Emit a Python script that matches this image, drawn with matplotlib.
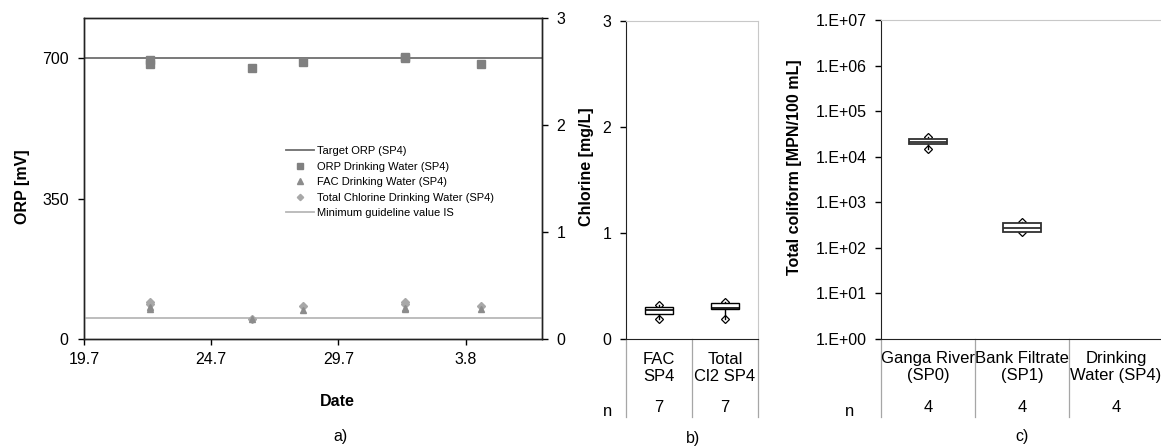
import matplotlib
matplotlib.use('Agg')
import matplotlib.pyplot as plt
import matplotlib.transforms as mtransforms
from matplotlib.lines import Line2D
from matplotlib.ticker import FixedLocator, FixedFormatter, NullLocator

plt.rcParams['font.family'] = ['Liberation Sans', 'DejaVu Sans']

W, H = 1161, 446

# ---------------- data: panel a ----------------
date_ticks = [0, 5, 10, 15]               # days after 19 July
date_labels = ['19.7', '24.7', '29.7', '3.8']
sample_days = [2.6, 2.6, 6.6, 8.6, 12.6, 12.6, 15.6]
orp_mv = [696, 686, 675, 690, 700, 703, 685]
fac_mgl = [0.30, 0.28, 0.19, 0.27, 0.29, 0.28, 0.28]
total_cl_mgl = [0.35, 0.33, 0.19, 0.31, 0.35, 0.33, 0.31]
target_orp = 700
min_guideline = 0.2
orp_ticks = [0, 350, 700]
cl_ticks = [0, 1, 2, 3]

# ---------------- data: panel b ----------------
cl_categories = ['FAC\nSP4', 'Total\nCl2 SP4']
cl_n = [7, 7]
cl_min = [0.19, 0.19]
cl_q1 = [0.24, 0.28]
cl_med = [0.27, 0.29]
cl_q3 = [0.30, 0.34]
cl_max = [0.32, 0.35]

# ---------------- data: panel c ----------------
tc_categories = ['Ganga River\n(SP0)', 'Bank Filtrate\n(SP1)', 'Drinking\nWater (SP4)']
tc_n = [4, 4, 4]
tc_min = [1.5e4, 219]
tc_q1 = [1.86e4, 225]
tc_med = [2.15e4, 277]
tc_q3 = [2.5e4, 344]
tc_max = [2.7e4, 368]
tc_ticks = [1e0, 1e1, 1e2, 1e3, 1e4, 1e5, 1e6, 1e7]
tc_labels = ['1.E+00', '1.E+01', '1.E+02', '1.E+03', '1.E+04', '1.E+05', '1.E+06', '1.E+07']


def fx(px):
    return px / W


def fy(py):
    return 1 - py / H


def rect(l, t, r, b):
    return [fx(l), fy(b), fx(r) - fx(l), fy(t) - fy(b)]


FS = 11.5
FSC = 12
fig = plt.figure(figsize=(W / 100, H / 100), dpi=100)

# ================= panel a =================
ax = fig.add_axes(rect(84, 18, 542, 339))
ax2 = ax.twinx()
ax.set_xlim(0, 18)
ax.set_ylim(0, 800)
ax2.set_ylim(0, 3)

ax.axhline(target_orp, color='#6e6e6e', lw=1.3, zorder=2)
ax.plot(sample_days, orp_mv, ls='none', marker='s', ms=5.3, color='#808080', zorder=3)
ax2.axhline(min_guideline, color='#b8b8b8', lw=1.3, zorder=1)
ax2.plot(sample_days, total_cl_mgl, ls='none', marker='D', ms=3.6, color='#a8a8a8', zorder=3)
ax2.plot(sample_days, fac_mgl, ls='none', marker='^', ms=4.2, color='#8c8c8c', zorder=4)

ax.set_xticks(date_ticks)
ax.set_xticklabels(date_labels)
ax.set_yticks(orp_ticks)
ax2.set_yticks(cl_ticks)
ax.tick_params(axis='y', direction='out', length=4, width=1, labelsize=FS, pad=7)
ax.tick_params(axis='x', direction='out', length=4, width=1, labelsize=FS, pad=5)
ax2.tick_params(axis='y', direction='out', length=4, width=1, labelsize=FS, pad=6.5)
for a in (ax, ax2):
    for s in a.spines.values():
        s.set_color('#222222')
        s.set_linewidth(1)

fig.text(fx(23), fy(187), 'ORP [mV]', rotation=90, ha='center', va='center',
         fontsize=FS, fontweight='bold')
fig.text(fx(337), fy(402), 'Date', ha='center', va='center', fontsize=FS, fontweight='bold')
fig.text(fx(340), fy(437), 'a)', ha='center', va='center', fontsize=FS)

handles = [
    Line2D([], [], color='#6e6e6e', lw=1.3),
    Line2D([], [], ls='none', marker='s', ms=4.5, color='#808080'),
    Line2D([], [], ls='none', marker='^', ms=4.0, color='#8c8c8c'),
    Line2D([], [], ls='none', marker='D', ms=3.2, color='#a8a8a8'),
    Line2D([], [], color='#b8b8b8', lw=1.3),
]
labels = ['Target ORP (SP4)', 'ORP Drinking Water (SP4)', 'FAC Drinking Water (SP4)',
          'Total Chlorine Drinking Water (SP4)', 'Minimum guideline value IS']
fig.legend(handles, labels, loc='upper left', bbox_to_anchor=(fx(286), fy(146)),
           frameon=False, borderpad=0, borderaxespad=0, handlelength=2.5,
           handletextpad=0.25, labelspacing=0.5, fontsize=8)


def box_stats(mins, q1s, meds, q3s, maxs):
    out = []
    for mn, a, m, b, mx in zip(mins, q1s, meds, q3s, maxs):
        out.append(dict(whislo=mn, q1=a, med=m, q3=b, whishi=mx, fliers=[]))
    return out


def category_table(axis, categories, ns, bottom_frac, label_frac, n_frac):
    trans = mtransforms.blended_transform_factory(axis.transData, axis.transAxes)
    k = len(categories)
    for i in range(k + 1):
        axis.plot([0.5 + i, 0.5 + i], [0, bottom_frac], transform=trans, clip_on=False,
                  color='#a6a6a6', lw=0.9)
    for i, (c, n) in enumerate(zip(categories, ns)):
        axis.text(i + 1, label_frac, c, transform=trans, ha='center', va='center',
                  fontsize=FSC, linespacing=1.1)
        axis.text(i + 1, n_frac, str(n), transform=trans, ha='center', va='center',
                  fontsize=FSC)


# ================= panel b =================
bx = fig.add_axes(rect(626, 21, 758, 339))
bx.set_xlim(0.5, 2.5)
bx.set_ylim(0, 3)
bx.plot([1, 2], cl_min, ls='none', marker='D', ms=4.3, mfc='white', mec='black', mew=0.9, zorder=1)
bx.plot([1, 2], cl_max, ls='none', marker='D', ms=4.3, mfc='white', mec='black', mew=0.9, zorder=1)
bx.bxp(box_stats(cl_min, cl_q1, cl_med, cl_q3, cl_max), positions=[1, 2], widths=0.41,
       showcaps=False, showfliers=False, patch_artist=True,
       boxprops=dict(facecolor='white', edgecolor='black', linewidth=1, zorder=3),
       medianprops=dict(color='black', linewidth=1.2, zorder=4),
       whiskerprops=dict(color='black', linewidth=1, zorder=2))
bx.set_yticks(cl_ticks)
bx.xaxis.set_major_locator(NullLocator())
bx.tick_params(axis='y', direction='out', length=4, width=1, labelsize=FS, pad=6.5)
bx.spines['top'].set_color('#c8c8c8')
bx.spines['right'].set_color('#c8c8c8')
bx.spines['left'].set_color('#222222')
bx.spines['bottom'].set_color('#222222')
hb = 318.0
category_table(bx, cl_categories, cl_n, -(417 - 339) / hb, -(368 - 339) / hb, -(407 - 339) / hb)
fig.text(fx(608), fy(411), 'n', ha='center', va='center', fontsize=FSC)
fig.text(fx(587), fy(167), 'Chlorine [mg/L]', rotation=90, ha='center', va='center',
         fontsize=FS, fontweight='bold')
fig.text(fx(693), fy(439), 'b)', ha='center', va='center', fontsize=FS)

# ================= panel c =================
cx = fig.add_axes(rect(881, 20, 1163, 339))
cx.set_yscale('log')
cx.set_xlim(0.5, 3.5)
cx.set_ylim(1, 1e7)
cx.plot([1, 2], tc_min, ls='none', marker='D', ms=4.3, mfc='white', mec='black', mew=0.9, zorder=1)
cx.plot([1, 2], tc_max, ls='none', marker='D', ms=4.3, mfc='white', mec='black', mew=0.9, zorder=1)
cx.bxp(box_stats(tc_min, tc_q1, tc_med, tc_q3, tc_max), positions=[1, 2], widths=0.41,
       showcaps=False, showfliers=False, patch_artist=True,
       boxprops=dict(facecolor='white', edgecolor='#303030', linewidth=1.3, zorder=3),
       medianprops=dict(color='#303030', linewidth=1.3, zorder=4),
       whiskerprops=dict(color='black', linewidth=1, zorder=2))
cx.yaxis.set_major_locator(FixedLocator(tc_ticks))
cx.yaxis.set_major_formatter(FixedFormatter(tc_labels))
cx.yaxis.set_minor_locator(NullLocator())
cx.xaxis.set_major_locator(NullLocator())
cx.tick_params(axis='y', direction='out', length=4, width=1, labelsize=FS, pad=6.5)
cx.spines['top'].set_color('#c8c8c8')
cx.spines['right'].set_color('#c8c8c8')
cx.spines['left'].set_color('#222222')
cx.spines['bottom'].set_color('#222222')
hc = 319.0
category_table(cx, tc_categories, tc_n, -(417 - 339) / hc, -(367 - 339) / hc, -(407 - 339) / hc)
fig.text(fx(850), fy(412), 'n', ha='center', va='center', fontsize=FSC)
fig.text(fx(795), fy(167), 'Total coliform [MPN/100 mL]', rotation=90, ha='center',
         va='center', fontsize=FS, fontweight='bold')
fig.text(fx(1022), fy(436), 'c)', ha='center', va='center', fontsize=FS)

fig.savefig('out.png', dpi=100)
